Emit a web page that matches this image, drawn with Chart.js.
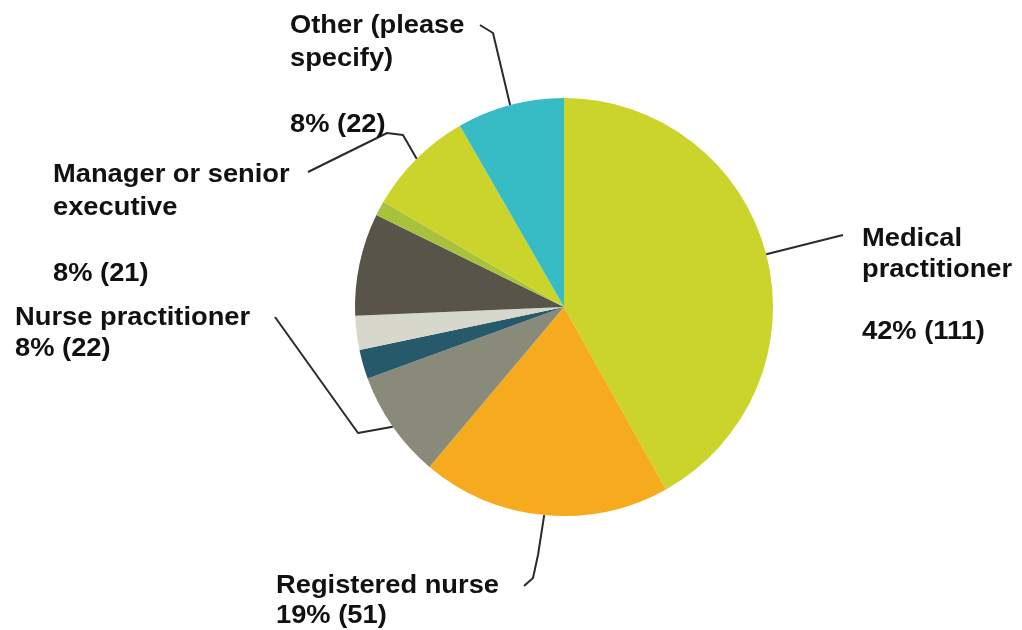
<!DOCTYPE html>
<html>
<head>
<meta charset="utf-8">
<script src="https://cdn.jsdelivr.net/npm/chart.js@4"></script>
<style>
  html, body { margin: 0; padding: 0; background: #ffffff; }
  #wrap { width: 1022px; height: 630px; position: relative; }
</style>
</head>
<body>
<div id="wrap"><canvas id="grafico"></canvas></div>
<script>
// categorias e valores (sentido horário a partir do topo)
const categorias = ['Medical practitioner', 'Registered nurse', 'Nurse practitioner', 'Allied health', 'Pharmacist',
  'Manager or senior executive', 'Researcher', 'Policy officer', 'Other (please specify)'];
const valores = [111, 51, 22, 6, 7, 21, 3, 22, 22];
const cores = ['#cad42b', '#f6ab1f', '#8a8a7a', '#26596a', '#d8d7cb', '#58544a', '#a8c23d', '#cad42b', '#37bcc5'];

// rótulos: linhas de texto de cada rótulo
const rotulos = [
  { fatia: 0, linhas: ['Medical', 'practitioner', '', '42% (111)'] },
  { fatia: 1, linhas: ['Registered nurse', '19% (51)'] },
  { fatia: 2, linhas: ['Nurse practitioner', '8% (22)'] },
  { fatia: null, linhas: ['Manager or senior', 'executive', '', '8% (21)'] },
  { fatia: 8, linhas: ['Other (please', 'specify)', '', '8% (22)'] }
];

// posição de cada rótulo e pontos das linhas de chamada (layout)
const posRotulos = [
  { x: 862, y: 246, dy: 31, guia: [[843, 235]] },
  { x: 276, y: 593, dy: 30, guia: [[524, 586], [533, 578], [538, 555]] },
  { x: 15, y: 325, dy: 31, guia: [[275, 317], [358, 433]] },
  { x: 53, y: 182, dy: 33, guia: [] },
  { x: 290, y: 33, dy: 33, guia: [[480, 25], [493, 33]] }
];
// linha do "Manager" vai até a fatia 7
const guiaExtra = { fatia: 7, pontos: [[308, 172], [387, 133], [403, 135]] };

const pluginRotulos = {
  id: 'rotulos',
  afterDraw(chart) {
    const ctx = chart.ctx;
    const arcos = chart.getDatasetMeta(0).data;
    const pontaFatia = (i) => {
      const a = arcos[i];
      const meio = (a.startAngle + a.endAngle) / 2;
      return [a.x + Math.cos(meio) * a.outerRadius, a.y + Math.sin(meio) * a.outerRadius];
    };
    const desenhaGuia = (pontos) => {
      ctx.beginPath();
      ctx.moveTo(pontos[0][0], pontos[0][1]);
      for (let k = 1; k < pontos.length; k++) ctx.lineTo(pontos[k][0], pontos[k][1]);
      ctx.stroke();
    };
    ctx.save();
    ctx.strokeStyle = '#2a2a2a';
    ctx.lineWidth = 2;
    ctx.lineJoin = 'round';
    rotulos.forEach((r, i) => {
      const p = posRotulos[i];
      if (r.fatia !== null && p.guia.length) {
        desenhaGuia(p.guia.concat([pontaFatia(r.fatia)]));
      }
    });
    desenhaGuia(guiaExtra.pontos.concat([pontaFatia(guiaExtra.fatia)]));

    ctx.fillStyle = '#111111';
    ctx.font = 'bold 26px "Liberation Sans", Arial, sans-serif';
    ctx.textAlign = 'left';
    ctx.textBaseline = 'alphabetic';
    rotulos.forEach((r, i) => {
      const p = posRotulos[i];
      r.linhas.forEach((t, k) => {
        if (!t) return;
        // texto do original é um pouco mais largo
        ctx.save();
        ctx.translate(p.x, p.y + k * p.dy);
        ctx.scale(1.05, 1);
        ctx.fillText(t, 0, 0);
        ctx.restore();
      });
    });
    ctx.restore();
  }
};

new Chart(document.getElementById('grafico'), {
  type: 'pie',
  data: {
    labels: categorias,
    datasets: [{
      data: valores,
      backgroundColor: cores,
      borderWidth: 0
    }]
  },
  options: {
    animation: false,
    responsive: true,
    maintainAspectRatio: false,
    layout: {
      padding: { left: 355, right: 249, top: 98, bottom: 114 }
    },
    plugins: {
      legend: { display: false },
      tooltip: { enabled: false }
    }
  },
  plugins: [pluginRotulos]
});
</script>
</body>
</html>
